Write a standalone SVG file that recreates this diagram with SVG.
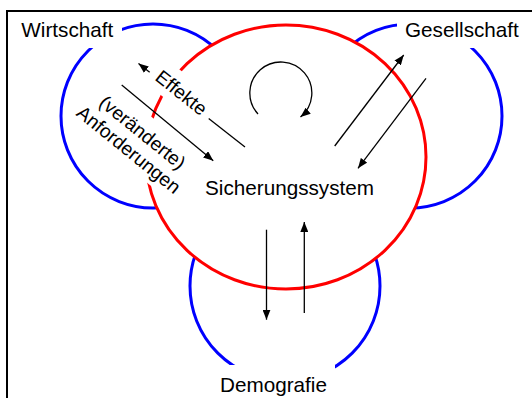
<svg xmlns="http://www.w3.org/2000/svg" width="532" height="398" viewBox="0 0 532 398">
<defs>
<marker id="ah" viewBox="0 0 10 8" refX="10" refY="4" markerWidth="10" markerHeight="8" markerUnits="userSpaceOnUse" orient="auto"><path d="M0,0 L10,4 L0,8 z" fill="#000"/></marker>
</defs>
<style>
.blue{fill:none;stroke:#0000ff;stroke-width:3}
.red{fill:#fff;stroke:#ff0000;stroke-width:3}
.lbl{font-family:"Liberation Sans",Arial,sans-serif;font-size:20.7px;fill:#000}
.rot{font-size:19.2px}
.arr{stroke:#000;stroke-width:1.3;fill:none;marker-end:url(#ah)}
.bg{fill:#fff}
</style>
<rect width="532" height="398" fill="#fff"/>
<path d="M7,398 V11 H532" fill="none" stroke="#000" stroke-width="2"/>
<g id="wirtschaft-circle"><circle class="blue" cx="153" cy="116" r="92"/></g>
<g id="gesellschaft-circle"><circle class="blue" cx="410" cy="116" r="92"/></g>
<g id="demografie-circle"><circle class="blue" cx="285" cy="286" r="95"/></g>
<g id="sicherungssystem">
<ellipse class="red" cx="286" cy="157" rx="140" ry="132"/>
<text class="lbl" x="205" y="195">Sicherungssystem</text>
</g>
<g id="connectors">
<path class="arr" d="M258,114 A31,31 0 1 1 300.5,117"/>
<line class="arr" x1="245" y1="147" x2="138.5" y2="63.5"/>
<line class="arr" x1="121.7" y1="85" x2="213.3" y2="160.7"/>
<line class="arr" x1="334.7" y1="146" x2="403.7" y2="55"/>
<line class="arr" x1="426" y1="78.3" x2="358" y2="168.3"/>
<line class="arr" x1="266.5" y1="229.7" x2="266.5" y2="319.7"/>
<line class="arr" x1="304.3" y1="313" x2="304.3" y2="222"/>
</g>
<g id="effekte" transform="translate(181.5,92.5) rotate(38.5)">
<rect class="bg" x="-37.5" y="-16.7" width="75" height="31.6"/>
<text class="lbl rot" x="0" y="6.8" text-anchor="middle">Effekte</text>
</g>
<g id="anforderungen" transform="translate(135.6,141.2) rotate(39)">
<rect class="bg" x="-64" y="-29" width="128" height="54"/>
<text class="lbl rot" x="0" y="-4.5" text-anchor="middle">(veränderte)</text>
<text class="lbl rot" x="0" y="17.5" text-anchor="middle">Anforderungen</text>
</g>
<g id="wirtschaft">
<rect class="bg" x="16" y="14" width="106" height="34"/>
<text class="lbl" x="21.3" y="37.3">Wirtschaft</text>
</g>
<g id="gesellschaft">
<rect class="bg" x="397" y="14" width="128" height="34"/>
<text class="lbl" x="405" y="36.7">Gesellschaft</text>
</g>
<g id="demografie">
<rect class="bg" x="215" y="365" width="120" height="33"/>
<text class="lbl" x="220" y="391.7">Demografie</text>
</g>
</svg>
